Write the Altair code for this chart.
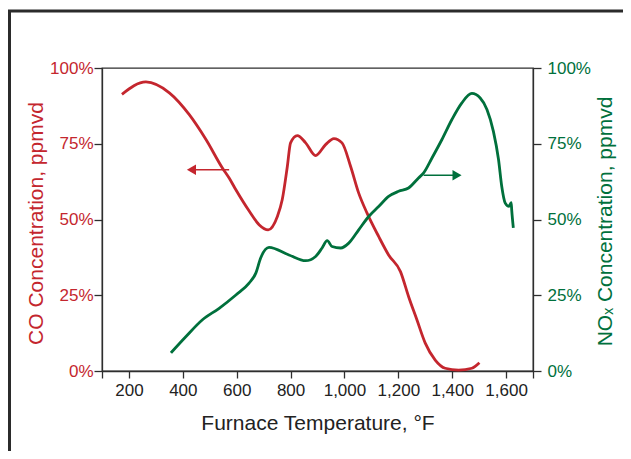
import altair as alt
import pandas as pd

# ---- data ----
co_temp = [174, 263, 350, 424, 486, 547, 572, 597, 647, 683, 717, 751, 769, 788, 800, 825, 856, 893, 930, 961,
           991, 1023, 1053, 1084, 1127, 1164, 1208, 1238, 1269, 1300, 1337, 1374, 1424, 1473, 1501]
co_pct = [91.3, 95.4, 91.8, 84.6, 76.4, 67.0, 63.7, 59.8, 52.7, 48.3, 46.6, 51.0, 56.5, 67.5, 75.3, 77.7, 75.3, 71.1, 74.7, 76.7,
          75.3, 67.5, 58.7, 52.1, 44.4, 38.3, 32.8, 24.6, 16.9, 9.2, 3.6, 0.9, 0.3, 0.9, 2.7]

nox_temp = [356, 411, 473, 535, 597, 646, 671, 689, 720, 794, 856, 893, 917, 936, 954, 986, 1016, 1053, 1090, 1127,
            1164, 1201, 1238, 1275, 1294, 1325, 1362, 1399, 1436, 1473, 1504, 1529, 1553, 1572, 1584, 1597, 1611, 1619, 1621, 1627]
nox_pct = [6.0, 11.3, 16.9, 20.7, 25.1, 29.0, 32.3, 37.3, 40.8, 38.3, 36.4, 37.8, 40.6, 43.0, 41.1, 40.6, 42.2, 46.6, 51.0, 54.3,
           57.6, 59.3, 60.4, 63.7, 65.4, 70.3, 76.4, 83.0, 88.5, 91.6, 90.1, 86.3, 79.1, 69.8, 60.9, 55.4, 54.3, 55.6, 53.1, 47.2]

x_ticks = [100, 200, 400, 600, 800, 1000, 1200, 1400, 1600, 1700]
y_ticks = [0, 25, 50, 75, 100]

# arrows (annotation): [start, end] temperature, level
co_arrow_x = [572, 432]
co_arrow_y = 66.4
nox_arrow_x = [1294, 1418]
nox_arrow_y = 64.6

RED = "#c4262e"
GREEN = "#00703c"
DARK = "#222222"
LINE = "#2e2e2e"
FONT = "Liberation Sans"

co_df = pd.DataFrame({"t": co_temp, "p": co_pct})
nox_df = pd.DataFrame({"t": nox_temp, "p": nox_pct})

x_axis = alt.Axis(
    values=x_ticks,
    labelExpr="(datum.value < 150 || datum.value > 1650) ? '' : format(datum.value, ',')",
    title="Furnace Temperature, °F",
    grid=False,
    tickSize=7,
    labelPadding=4,
    labelFontSize=17,
    labelColor=DARK,
    titleFontSize=21,
    titleFontWeight="normal",
    titleColor=DARK,
    titleY=52,
    titleBaseline="middle",
    domainColor=LINE,
    tickColor=LINE,
    domainWidth=1.3,
    tickWidth=1.3,
    labelFlush=False,
)
xscale = alt.Scale(domain=[100, 1700], nice=False, zero=False)
yscale = alt.Scale(domain=[0, 100], nice=False)


def xenc(field):
    return alt.X(field, type="quantitative", scale=xscale, axis=x_axis)


def y_axis(orient, title, color, tx, ty, pad):
    return alt.Axis(
        orient=orient,
        values=y_ticks,
        labelExpr="datum.value + '%'",
        title=title,
        grid=False,
        tickSize=8,
        labelPadding=pad,
        labelFontSize=17,
        labelColor=color,
        titleColor=color,
        titleFontSize=21,
        titleFontWeight="normal",
        titleAngle=-90,
        titleX=tx,
        titleY=ty,
        titleBaseline="middle",
        titleAlign="center",
        domainColor=LINE,
        tickColor=LINE,
        domainWidth=1.3,
        tickWidth=1.3,
    )


co_line = alt.Chart(co_df).mark_line(color=RED, strokeWidth=2.8, interpolate="monotone").encode(
    x=xenc("t"),
    y=alt.Y("p:Q", scale=yscale, axis=y_axis("left", "CO Concentration, ppmvd", RED, -66, 155, 1)),
)

nox_line = alt.Chart(nox_df).mark_line(color=GREEN, strokeWidth=2.8, interpolate="monotone").encode(
    x=xenc("t"),
    y=alt.Y("p:Q", scale=yscale, axis=y_axis("right", "NOₓ Concentration, ppmvd", GREEN, 72, 153, 6)),
)

co_arrow_df = pd.DataFrame({"t": [co_arrow_x[0]], "t2": [co_arrow_x[1]], "p": [co_arrow_y]})
nox_arrow_df = pd.DataFrame({"t": [nox_arrow_x[0]], "t2": [nox_arrow_x[1]], "p": [nox_arrow_y]})
co_head_df = pd.DataFrame({"t": [co_arrow_x[1]], "p": [co_arrow_y]})
nox_head_df = pd.DataFrame({"t": [nox_arrow_x[1]], "p": [nox_arrow_y]})

co_arrow_line = alt.Chart(co_arrow_df).mark_rule(color=RED, strokeWidth=1.6).encode(
    x=xenc("t"), x2="t2:Q", y=alt.Y("p:Q", scale=yscale, axis=None)
)
co_arrow_head = alt.Chart(co_head_df).mark_point(
    shape="triangle-left", filled=True, color=RED, size=110, opacity=1
).encode(x=xenc("t"), y=alt.Y("p:Q", scale=yscale, axis=None))

nox_arrow_line = alt.Chart(nox_arrow_df).mark_rule(color=GREEN, strokeWidth=1.6).encode(
    x=xenc("t"), x2="t2:Q", y=alt.Y("p:Q", scale=yscale, axis=None)
)
nox_arrow_head = alt.Chart(nox_head_df).mark_point(
    shape="triangle-right", filled=True, color=GREEN, size=110, opacity=1
).encode(x=xenc("t"), y=alt.Y("p:Q", scale=yscale, axis=None))

frame = alt.Chart(pd.DataFrame({"a": [0]})).mark_rect(
    fillOpacity=0, stroke="#2b2b2b", strokeWidth=3
).encode(
    x=alt.value(-92.5), x2=alt.value(700), y=alt.value(-57), y2=alt.value(600)
)

chart = alt.layer(
    co_line, nox_line, co_arrow_line, co_arrow_head, nox_arrow_line, nox_arrow_head, frame
).resolve_scale(y="independent").properties(
    width=431,
    height=303,
    autosize=alt.AutoSizeParams(type="none"),
    padding={"left": 94, "top": 60, "right": 90, "bottom": 80},
    background="white",
).configure(font=FONT).configure_view(
    stroke=LINE, strokeWidth=1.3
)

chart.save("out.html", embed_options={"renderer": "svg", "actions": False})
